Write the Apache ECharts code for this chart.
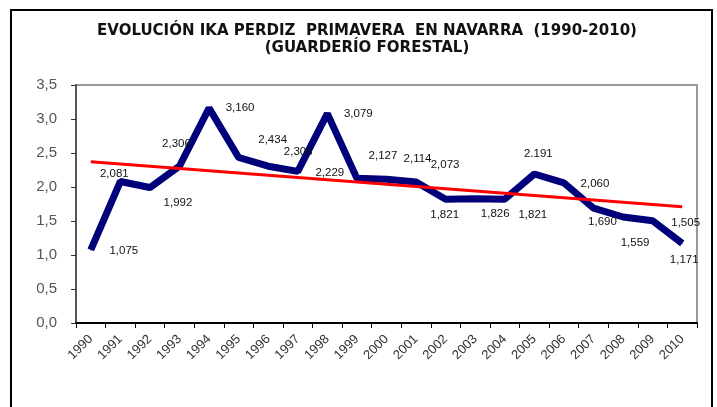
<!DOCTYPE html>
<html>
<head>
<meta charset="utf-8">
<script src="https://cdn.jsdelivr.net/npm/echarts@6/dist/echarts.min.js"></script>
<style>
html,body{margin:0;padding:0;background:#fff;}
#chart{width:717px;height:407px;}
</style>
</head>
<body>
<div id="chart"></div>
<script>
// ---- data ----
var years = ['1990','1991','1992','1993','1994','1995','1996','1997','1998','1999','2000',
             '2001','2002','2003','2004','2005','2006','2007','2008','2009','2010'];
var ikaValues = [1.075, 2.081, 1.992, 2.306, 3.160, 2.434, 2.306, 2.229, 3.079, 2.127, 2.114,
                 2.073, 1.821, 1.826, 1.821, 2.191, 2.060, 1.690, 1.559, 1.505, 1.171];
var ikaLabels = ['1,075','2,081','1,992','2,306','3,160','2,434','2,306','2,229','3,079','2,127','2,114',
                 '2,073','1,821','1,826','1,821','2.191','2,060','1,690','1,559','1,505','1,171'];
var trendStart = 2.37;   // trend value at 1990
var trendEnd = 1.71;     // trend value at 2010
var yTicks = ['0,0','0,5','1,0','1,5','2,0','2,5','3,0','3,5'];

// label placement (style only)
var labelOffsets = [[33,1],[-6,-8],[28,15],[-3,-22],[31,0],[34,-18],[30,-14],[32,1],[31,0],[26,-23],[31,-20],
                    [29,-17],[-1,16],[20,15],[28,16],[4,-20],[31,1],[9,14],[12,26],[33,2],[2,16]];

var chart = echarts.init(document.getElementById('chart'), null, {renderer:'canvas'});

var ikaData = ikaValues.map(function(v, i){
  return {value: v, label: {offset: labelOffsets[i]}};
});

var option = {
  animation: false,
  backgroundColor: '#ffffff',
  title: {
    text: 'EVOLUCIÓN IKA PERDIZ  PRIMAVERA  EN NAVARRA  (1990-2010)\n(GUARDERÍO FORESTAL)',
    left: 362, top: 18, textAlign: 'center',
    textStyle: {fontFamily: 'DejaVu Sans, sans-serif', fontSize: 15, fontWeight: 'bold',
                color: '#111', lineHeight: 17}
  },
  graphic: [{
    type: 'rect', silent: true, z: 100,
    shape: {x: 11, y: 10, width: 701, height: 420},
    style: {fill: 'none', stroke: '#000', lineWidth: 2}
  }],
  grid: {left: 76, right: 20, top: 85, bottom: 84, show: true,
         borderColor: '#9a9a9a', borderWidth: 2, backgroundColor: 'transparent'},
  xAxis: {
    type: 'category', data: years, boundaryGap: true,
    axisLine: {lineStyle: {color: '#000', width: 2}},
    axisTick: {show: true, length: 5, lineStyle: {color: '#000', width: 1}},
    axisLabel: {rotate: 45, fontSize: 13, color: '#333', margin: 14,
                fontFamily: 'Liberation Sans, Arial, sans-serif'},
    splitLine: {show: false}
  },
  yAxis: {
    type: 'value', min: 0, max: 3.5, interval: 0.5,
    axisLine: {show: true, lineStyle: {color: '#555', width: 2}},
    axisTick: {show: true, length: 5, lineStyle: {color: '#333'}},
    axisLabel: {fontSize: 15, color: '#555', margin: 19,
                fontFamily: 'Liberation Sans, Arial, sans-serif',
                formatter: function(v){ return yTicks[Math.round(v / 0.5)]; }},
    splitLine: {show: false}
  },
  series: [{
    name: 'IKA', type: 'line', data: ikaData,
    symbol: 'circle', symbolSize: 1, showSymbol: true,
    lineStyle: {color: '#00007a', width: 7},
    itemStyle: {color: '#00007a'},
    label: {show: true, position: 'inside', color: '#111', fontSize: 11.5,
            fontFamily: 'Liberation Sans, Arial, sans-serif',
            formatter: function(p){ return ikaLabels[p.dataIndex]; }},
    z: 2
  }, {
    name: 'Tendencia', type: 'line',
    data: [[0, trendStart], [years.length - 1, trendEnd]],
    symbol: 'none',
    lineStyle: {color: '#ff0000', width: 3},
    z: 3
  }]
};
chart.setOption(option);
</script>
</body>
</html>
